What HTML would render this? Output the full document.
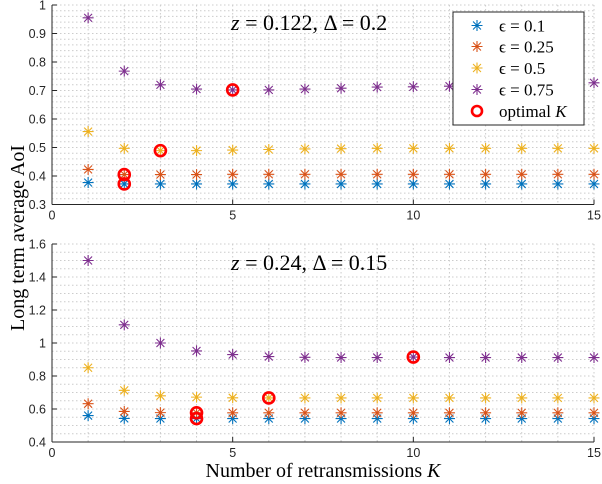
<!DOCTYPE html>
<html><head><meta charset="utf-8"><style>
html,body{margin:0;padding:0;background:#fff;width:602px;height:484px;overflow:hidden}
svg text{font-family:"Liberation Sans",sans-serif}
.serif{font-family:"Liberation Serif",serif}
</style></head><body>
<svg id="chart" width="602" height="484" xmlns="http://www.w3.org/2000/svg"></svg>
<script>
const categories=[1,2,3,4,5,6,7,8,9,10,11,12,13,14,15];
const seriesLabels=["ϵ = 0.1","ϵ = 0.25","ϵ = 0.5","ϵ = 0.75"];
const topE01=[0.377,0.372,0.372,0.372,0.372,0.372,0.372,0.372,0.372,0.372,0.372,0.372,0.372,0.372,0.372];
const topE025=[0.423,0.405,0.405,0.405,0.406,0.406,0.406,0.406,0.406,0.406,0.406,0.406,0.406,0.406,0.406];
const topE05=[0.556,0.497,0.489,0.489,0.491,0.493,0.495,0.496,0.497,0.497,0.497,0.497,0.497,0.497,0.497];
const topE075=[0.955,0.768,0.72,0.705,0.702,0.702,0.705,0.708,0.712,0.713,0.715,0.717,0.72,0.722,0.727];
const topOptK=[2,2,3,5];
const botE01=[0.56,0.543,0.542,0.542,0.542,0.542,0.542,0.542,0.542,0.542,0.542,0.542,0.542,0.542,0.542];
const botE025=[0.632,0.585,0.578,0.577,0.577,0.577,0.577,0.577,0.577,0.577,0.577,0.577,0.577,0.577,0.577];
const botE05=[0.85,0.713,0.68,0.672,0.668,0.667,0.667,0.667,0.667,0.667,0.667,0.667,0.667,0.667,0.667];
const botE075=[1.5,1.11,1.0,0.952,0.93,0.918,0.913,0.912,0.912,0.915,0.912,0.912,0.912,0.912,0.912];
const botOptK=[4,4,6,10];
const xTicks=[0,5,10,15];
const topYTicks=[0.3,0.4,0.5,0.6,0.7,0.8,0.9,1];
const botYTicks=[0.4,0.6,0.8,1,1.2,1.4,1.6];
const colors=["#0072BD","#D95319","#EDB120","#7E2F8E"];
const NS="http://www.w3.org/2000/svg";
const svg=document.getElementById('chart');
function mk(tag,attrs,parent){const e=document.createElementNS(NS,tag);for(const k in attrs)e.setAttribute(k,attrs[k]);(parent||svg).appendChild(e);return e;}
const X0=52,X1=594;
const xs=v=>X0+(v-0)/(15-0)*(X1-X0);
function star(g,cx,cy,c){const r=5.5,d=r*0.72;
 const p=mk('path',{d:`M${cx-r},${cy}H${cx+r}M${cx},${cy-r}V${cy+r}M${cx-d},${cy-d}L${cx+d},${cy+d}M${cx-d},${cy+d}L${cx+d},${cy-d}`,stroke:c,'stroke-width':1.1,fill:'none'},g);
 
 }
function panel(name,top,bot,ymin,ymax,yticks,minorStep,series,opt,label){
 const g=mk('g',{});
 
 
 const ys=v=>bot-(v-ymin)/(ymax-ymin)*(bot-top);
 for(let v=0;v<=15;v+=1){mk('line',{x1:xs(v),x2:xs(v),y1:top,y2:bot,stroke:'#ccc','stroke-width':1,'stroke-dasharray':'1.5,2.5'},g);}
 for(let v=ymin;v<=ymax+1e-9;v+=minorStep){mk('line',{x1:X0,x2:X1,y1:ys(v),y2:ys(v),stroke:'#ccc','stroke-width':1,'stroke-dasharray':'1.5,2.5'},g);}
 mk('line',{x1:X0,x2:X0,y1:top,y2:bot,stroke:'#262626','stroke-width':1},g);
 mk('line',{x1:X0,x2:X1,y1:bot,y2:bot,stroke:'#262626','stroke-width':1},g);
 yticks.forEach(t=>{mk('line',{x1:X0,x2:X0+5,y1:ys(t),y2:ys(t),stroke:'#262626'},g);
  const tx=mk('text',{x:X0-6,y:ys(t)+4.5,'text-anchor':'end','font-size':12.5,fill:'#262626'},g);tx.textContent=String(t);
  
  });
 xTicks.forEach(t=>{mk('line',{x1:xs(t),x2:xs(t),y1:bot,y2:bot-5,stroke:'#262626'},g);
  const tx=mk('text',{x:xs(t),y:bot+15,'text-anchor':'middle','font-size':12.5,fill:'#262626'},g);tx.textContent=String(t);
  
  });
 series.forEach((s,i)=>{categories.forEach((k,j)=>star(g,xs(k),ys(s[j]),colors[i]));});
 opt.forEach((k,i)=>{const c=mk('circle',{cx:xs(k),cy:ys(series[i][categories.indexOf(k)]),r:5.5,fill:'none',stroke:'#FF0000','stroke-width':2.6},g);
  
  });
 const t=mk('text',{x:231,y:top+(label.dy),'font-size':22,fill:'#000',class:'serif'},g);
 
 
 t.innerHTML=label.html;
}
panel('top-panel',5,204.5,0.3,1,topYTicks,0.02,[topE01,topE025,topE05,topE075],topOptK,{dy:25,html:'<tspan font-style="italic">z</tspan> = 0.122, Δ = 0.2'});
panel('bottom-panel',244,442,0.4,1.6,botYTicks,0.05,[botE01,botE025,botE05,botE075],botOptK,{dy:26,html:'<tspan font-style="italic">z</tspan> = 0.24, Δ = 0.15'});
const lg=mk('g',{});


mk('rect',{x:453,y:12,width:131,height:113,fill:'#fff',stroke:'#262626','stroke-width':1},lg);
const ly=[25.5,46.5,68,89.5,111];
seriesLabels.forEach((s,i)=>{star(lg,477,ly[i],colors[i]);
 const t=mk('text',{x:499,y:ly[i]+6,'font-size':17,class:'serif'},lg);t.textContent=s;
 
 });
mk('circle',{cx:477,cy:ly[4],r:5,fill:'none',stroke:'#FF0000','stroke-width':2.6},lg);
const ot=mk('text',{x:499,y:ly[4]+6,'font-size':17,class:'serif'},lg);ot.innerHTML='optimal <tspan font-style="italic">K</tspan>';


const yt=mk('text',{x:0,y:0,'font-size':20,class:'serif','text-anchor':'middle',transform:'translate(24,238) rotate(-90)'});
yt.textContent='Long term average AoI';


const xt=mk('text',{x:323,y:477,'font-size':20,class:'serif','text-anchor':'middle'});
xt.innerHTML='Number of retransmissions <tspan font-style="italic">K</tspan>';


</script>
</body></html>
